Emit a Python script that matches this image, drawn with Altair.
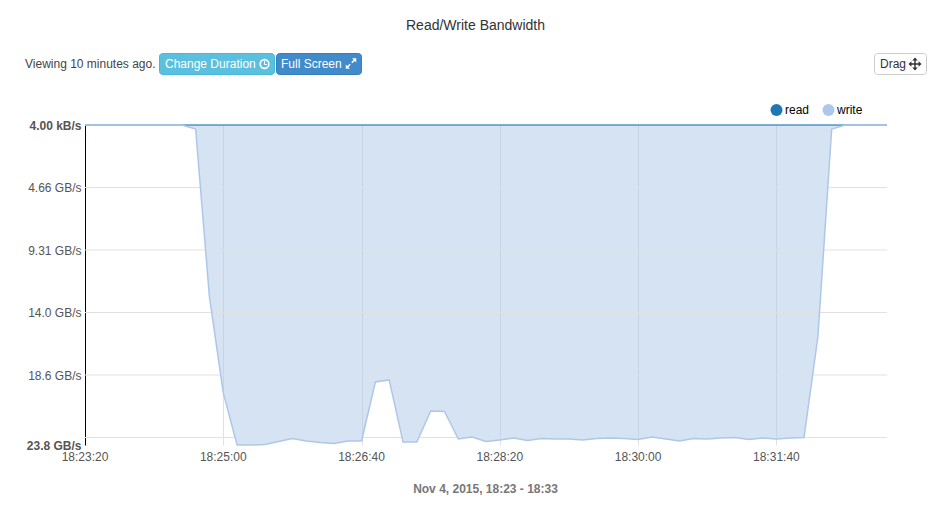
import altair as alt
import pandas as pd

FONT = "Liberation Sans"

# Samples every 10 s from 18:23:20 to 18:33:00
minutes = [23]*4 + [24]*6 + [25]*6 + [26]*6 + [27]*6 + [28]*6 + [29]*6 + [30]*6 + [31]*6 + [32]*6 + [33]
seconds = [20, 30, 40, 50] + [0, 10, 20, 30, 40, 50]*9 + [0]
write_gb = [0, 0, 0, 0, 0, 0, 0, 0, 0.3, 12.82, 19.98, 23.86, 23.86, 23.82, 23.6, 23.37, 23.56, 23.67,
            23.75, 23.56, 23.56, 19.16, 19.01, 23.64, 23.64, 21.32, 21.36, 23.41, 23.26, 23.6, 23.49,
            23.34, 23.52, 23.37, 23.41, 23.41, 23.49, 23.37, 23.34, 23.37, 23.45, 23.26, 23.41, 23.56,
            23.37, 23.41, 23.34, 23.3, 23.45, 23.34, 23.41, 23.34, 23.3, 15.81, 0.3, 0, 0, 0, 0]
read_gb = [0]*59
times = [f"2015-11-04T18:{m:02d}:{s:02d}" for m, s in zip(minutes, seconds)]

y_ticks = [0, 4.66, 9.32, 13.98, 18.64, 23.86]
grid_values = [4.66, 9.32, 13.98, 18.64, 23.3]
x_tick_times = [(23, 20), (25, 0), (26, 40), (28, 20), (30, 0), (31, 40)]

df = pd.DataFrame({"time": times, "write": write_gb, "read": read_gb})

W, H = 802, 320
x_enc = alt.X("time:T", scale=alt.Scale(domain=["2015-11-04T18:23:20", "2015-11-04T18:33:00"]),
              axis=alt.Axis(values=[alt.DateTime(year=2015, month=11, date=4, hours=18, minutes=m, seconds=s)
                                    for m, s in x_tick_times],
                            format="%H:%M:%S", title=None, domain=False, ticks=False, grid=True,
                            gridColor="#e1e1e1", gridWidth=1, labelFont=FONT, labelFontSize=12,
                            labelColor="#555555", labelPadding=6, labelOverlap=False, labelFlush=False,
                            labelOffset=-0.5))
y_scale = alt.Scale(domain=[0, 23.86], reverse=True, nice=False, zero=False)
y_axis = alt.Axis(values=y_ticks, title=None, grid=False, ticks=False, domain=True,
                  domainColor="#000000", domainWidth=1, labelFont=FONT, labelFontSize=12,
                  labelColor="#555555", labelPadding=4, labelOverlap=False, labelFlush=False,
                  labelOffset=0.5,
                  labelFontWeight={"condition": {"test": "datum.value == 0 || datum.value > 23",
                                                 "value": "bold"}, "value": "normal"},
                  labelExpr="datum.value == 0 ? '4.00 kB/s' : datum.value < 5 ? '4.66 GB/s' : "
                            "datum.value < 10 ? '9.31 GB/s' : datum.value < 15 ? '14.0 GB/s' : "
                            "datum.value < 20 ? '18.6 GB/s' : '23.8 GB/s'")

base = alt.Chart(df)
area = base.mark_area(color="#aec7e8", opacity=0.5, interpolate="linear").encode(
    x=x_enc, y=alt.Y("write:Q", scale=y_scale, axis=y_axis))
read_line = base.mark_line(color="#1f77b4", strokeWidth=1.5, opacity=0.75).encode(x="time:T", y=alt.Y("read:Q", scale=y_scale))
write_line = base.mark_line(color="#aec7e8", strokeWidth=1.5, opacity=1).encode(x="time:T", y=alt.Y("write:Q", scale=y_scale))

grid = alt.Chart(pd.DataFrame({"v": grid_values})).mark_rule(color="#e1e1e1", strokeWidth=1).encode(
    y=alt.Y("v:Q", scale=y_scale))


def one():
    return alt.Data(values=[{"a": 1}])


def label(text, px, py, size=12, color="#333333", align="left", weight="normal"):
    return alt.Chart(one()).mark_text(font=FONT, fontSize=size, color=color, align=align,
                                      baseline="middle", fontWeight=weight).encode(
        x=alt.value(px - 85), y=alt.value(py - 125), text=alt.value(text))


def button(x0, x1, fill, stroke):
    return alt.Chart(one()).mark_rect(fill=fill, stroke=stroke, strokeWidth=1, cornerRadius=3).encode(
        x=alt.value(x0 - 85 + 0.5), x2=alt.value(x1 - 85 - 0.5),
        y=alt.value(53.5 - 125), y2=alt.value(74.5 - 125))


def symbol(shape, px, py, size, color, filled=True, sw=1.0):
    return alt.Chart(one()).mark_point(shape=shape, size=size, filled=filled, color=color, opacity=1,
                                       strokeWidth=sw).encode(
        x=alt.value(px - 85), y=alt.value(py - 125))


def hand(x0, y0, x1, y1):
    return alt.Chart(one()).mark_rule(color="#ffffff", strokeWidth=1).encode(
        x=alt.value(x0 - 85), x2=alt.value(x1 - 85), y=alt.value(y0 - 125), y2=alt.value(y1 - 125))


MOVE = ("M0,-1 L0.42,-0.55 L0.11,-0.55 L0.11,-0.11 L0.55,-0.11 L0.55,-0.42 L1,0 L0.55,0.42 L0.55,0.11 "
        "L0.11,0.11 L0.11,0.55 L0.42,0.55 L0,1 L-0.42,0.55 L-0.11,0.55 L-0.11,0.11 L-0.55,0.11 L-0.55,0.42 "
        "L-1,0 L-0.55,-0.42 L-0.55,-0.11 L-0.11,-0.11 L-0.11,-0.55 L-0.42,-0.55 Z")
EXPAND = ("M0.2,-1 L1,-1 L1,-0.2 L0.7,-0.5 L0.25,-0.05 L0.05,-0.25 L0.5,-0.7 Z "
          "M-0.2,1 L-1,1 L-1,0.2 L-0.7,0.5 L-0.25,0.05 L-0.05,0.25 L-0.5,0.7 Z")

decor = [
    label("Read/Write Bandwidth", 475.5, 25.5, size=14, color="#333333", align="center"),
    label("Viewing 10 minutes ago.", 25, 64, color="#444444"),
    button(159, 275, "#5bc0de", "#46b8da"),
    label("Change Duration", 165, 64, color="#ffffff"),
    symbol("circle", 264.5, 64, 75, "#ffffff", filled=False, sw=1.6),
    hand(264.5, 61, 264.5, 64.5),
    hand(264.5, 64.5, 267, 64.5),
    button(276, 362, "#428bca", "#357ebd"),
    label("Full Screen", 281, 64, color="#ffffff"),
    symbol(EXPAND, 351, 63.5, 110, "#ffffff"),
    button(874, 927, "#ffffff", "#cccccc"),
    label("Drag", 880, 64),
    symbol(MOVE, 915, 64, 169, "#333333"),
    symbol("circle", 776.5, 110, 144, "#1f77b4"),
    label("read", 785, 110, color="#000000"),
    symbol("circle", 828.5, 110, 144, "#aec7e8"),
    label("write", 837, 110, color="#000000"),
    label("Nov 4, 2015, 18:23 - 18:33", 485.5, 489, color="#777777", align="center", weight="bold"),
]

chart = alt.layer(area, grid, read_line, write_line, *decor).properties(
    width=W, height=H,
    autosize=alt.AutoSizeParams(type="none"),
    padding={"left": 77, "top": 117, "right": 47, "bottom": 67},
).configure_view(stroke=None)

chart.save("out.html", embed_options={"renderer": "svg", "actions": False})
